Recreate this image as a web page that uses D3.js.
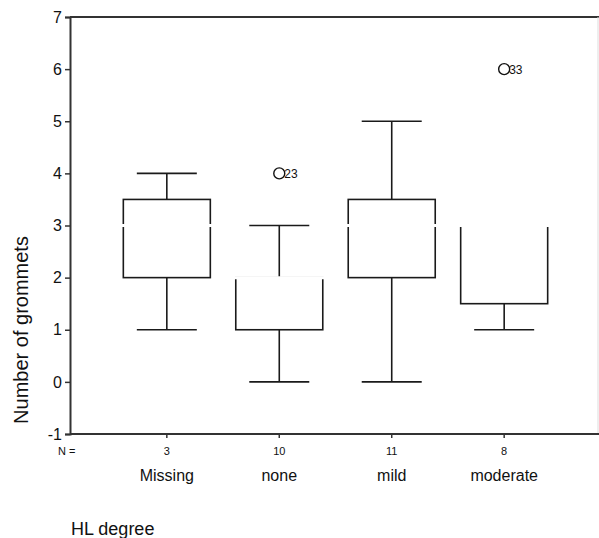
<!DOCTYPE html>
<meta charset="utf-8">
<style>
body {
  margin: 0;
  background-color: #fff;
}
svg text {
  font-family: "Liberation Sans", Arial, sans-serif;
  fill: #111;
}
.frame {
  stroke: #333;
  stroke-width: 2px;
  fill: none;
}
.box line, .box path {
  stroke: #1a1a1a;
  stroke-width: 1.6px;
  fill: none;
}
</style>
<svg width="599" height="538"></svg>
<script src="https://cdn.jsdelivr.net/npm/d3@7"></script>
<script>
// chart values
var categories = ["Missing", "none", "mild", "moderate"];
var counts = [3, 10, 11, 8];
var whiskerLow = [1, 0, 0, 1];
var q1 = [2, 1, 2, 1.5];
var median = [3, 2, 3, 3];
var q3 = [3.5, 2, 3.5, 3];
var whiskerHigh = [4, 3, 5, 3];
var outlierCats = ["none", "moderate"];
var outlierValues = [4, 6];
var outlierLabels = ["23", "33"];
var yTicks = [-1, 0, 1, 2, 3, 4, 5, 6, 7];

var svg = d3.select("svg");
var plotLeft = 70, plotRight = 599, plotTop = 17, plotBottom = 434;

var y = d3.scaleLinear().domain([-1, 7]).range([plotBottom, plotTop]);
var x = d3.scaleBand().domain(categories).range([110.6, 560.4]);
var cx = function(c) { return x(c) + x.bandwidth() / 2; };
var boxW = 87, capW = 60;

// frame
svg.append("line").attr("class", "frame")
  .attr("x1", plotLeft).attr("x2", plotRight).attr("y1", plotTop).attr("y2", plotTop);
svg.append("line").attr("class", "frame")
  .attr("x1", plotRight - 1).attr("x2", plotRight - 1).attr("y1", plotTop).attr("y2", plotBottom)
  .style("stroke", "#ddd").style("stroke-width", "1px");

// y axis
var yAxis = svg.append("g")
  .attr("transform", "translate(" + plotLeft + ",0)")
  .call(d3.axisLeft(y).tickValues(yTicks).tickSize(5).tickPadding(3)
    .tickFormat(function(d) { return String(d); }));
yAxis.select(".domain").attr("stroke", "#333").attr("stroke-width", 2);
yAxis.selectAll(".tick line").attr("stroke", "#333").attr("stroke-width", 1.5);
yAxis.selectAll("text").style("font-size", "16px").attr("fill", "#111")
  .style("font-family", "'Liberation Sans', Arial, sans-serif");

// x axis
var xAxis = svg.append("g")
  .attr("transform", "translate(0," + plotBottom + ")")
  .call(d3.axisBottom(x).tickSize(4).tickFormat(""));
xAxis.select(".domain").attr("d", "M" + plotLeft + ",0H" + plotRight)
  .attr("stroke", "#333").attr("stroke-width", 2);
xAxis.selectAll(".tick line").attr("stroke", "#333").attr("stroke-width", 1.5);

// N = row
svg.append("text").attr("x", 58).attr("y", 455)
  .style("font-size", "11px").text("N =");
svg.selectAll(".nlab").data(categories).enter().append("text")
  .attr("class", "nlab")
  .attr("x", function(d) { return cx(d); })
  .attr("y", 455)
  .attr("text-anchor", "middle")
  .style("font-size", "11px")
  .text(function(d, i) { return counts[i]; });

// category labels
svg.selectAll(".clab").data(categories).enter().append("text")
  .attr("class", "clab")
  .attr("x", function(d) { return cx(d); })
  .attr("y", 481)
  .attr("text-anchor", "middle")
  .style("font-size", "16px")
  .text(function(d) { return d; });

// axis titles
svg.append("text").attr("x", 71).attr("y", 535)
  .style("font-size", "18px").text("HL degree");
svg.append("text")
  .attr("transform", "translate(28,330) rotate(-90)")
  .attr("text-anchor", "middle")
  .style("font-size", "20px")
  .text("Number of grommets");

// boxes
var boxes = svg.selectAll(".box").data(categories).enter().append("g").attr("class", "box");

boxes.each(function(c, i) {
  var g = d3.select(this), m = cx(c);
  // whiskers
  if (whiskerHigh[i] > q3[i]) {
    g.append("line").attr("x1", m).attr("x2", m).attr("y1", y(q3[i])).attr("y2", y(whiskerHigh[i]));
    g.append("line").attr("x1", m - capW / 2).attr("x2", m + capW / 2)
      .attr("y1", y(whiskerHigh[i])).attr("y2", y(whiskerHigh[i]));
  }
  if (whiskerLow[i] < q1[i]) {
    g.append("line").attr("x1", m).attr("x2", m).attr("y1", y(q1[i])).attr("y2", y(whiskerLow[i]));
    g.append("line").attr("x1", m - capW / 2).attr("x2", m + capW / 2)
      .attr("y1", y(whiskerLow[i])).attr("y2", y(whiskerLow[i]));
  }
  // box
  g.append("rect")
    .attr("x", m - boxW / 2).attr("width", boxW)
    .attr("y", y(q3[i])).attr("height", y(q1[i]) - y(q3[i]))
    .attr("fill", "none").attr("stroke", "#1a1a1a").attr("stroke-width", 1.6);
  // median (rendered white in the original print)
  g.append("line")
    .attr("x1", m - boxW / 2 - 2).attr("x2", m + boxW / 2 + 2)
    .attr("y1", y(median[i])).attr("y2", y(median[i]))
    .style("stroke", "#fff").style("stroke-width", "3px");
});

// outliers
var outs = svg.selectAll(".out").data(outlierCats).enter().append("g").attr("class", "out");
outs.append("circle")
  .attr("cx", function(d) { return cx(d); })
  .attr("cy", function(d, i) { return y(outlierValues[i]); })
  .attr("r", 5.5)
  .attr("fill", "none").attr("stroke", "#111").attr("stroke-width", 1.4);
outs.append("text")
  .attr("x", function(d) { return cx(d) + 5; })
  .attr("y", function(d, i) { return y(outlierValues[i]) + 4.5; })
  .style("font-size", "12px")
  .text(function(d, i) { return outlierLabels[i]; });
</script>
